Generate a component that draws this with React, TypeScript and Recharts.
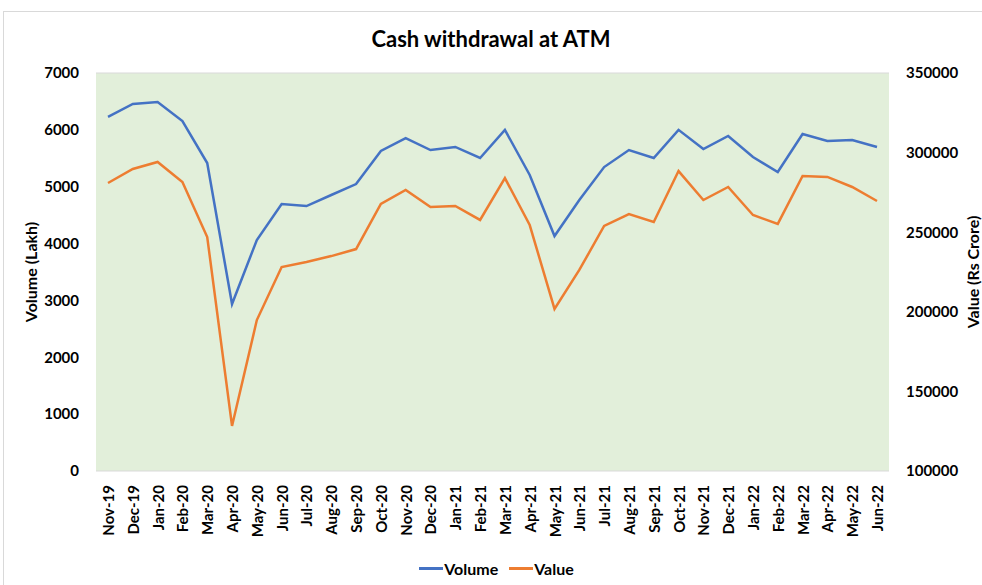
import React from "react";
import {
  LineChart, Line, XAxis, YAxis, CartesianGrid, Legend,
} from "recharts";

const months = [
  "Nov-19", "Dec-19", "Jan-20", "Feb-20", "Mar-20", "Apr-20", "May-20", "Jun-20",
  "Jul-20", "Aug-20", "Sep-20", "Oct-20", "Nov-20", "Dec-20", "Jan-21", "Feb-21",
  "Mar-21", "Apr-21", "May-21", "Jun-21", "Jul-21", "Aug-21", "Sep-21", "Oct-21",
  "Nov-21", "Dec-21", "Jan-22", "Feb-22", "Mar-22", "Apr-22", "May-22", "Jun-22",
];

// Volume (Lakh)
const volume = [
  6230, 6455, 6490, 6155, 5417, 2937, 4063, 4696,
  4660, 4854, 5047, 5628, 5856, 5645, 5700, 5505,
  6000, 5206, 4133, 4766, 5346, 5645, 5505, 6000,
  5663, 5893, 5522, 5258, 5927, 5804, 5821, 5698,
];

// Value (Rs Crore)
const value = [
  280900, 289700, 294100, 281500, 247000, 128300, 194800, 228100,
  231300, 235000, 239400, 267700, 276500, 265800, 266500, 257700,
  284000, 254500, 201800, 226300, 253900, 261400, 256400, 288400,
  270200, 278400, 260800, 255200, 285300, 284700, 278400, 269600,
];

const leftTicks = [0, 1000, 2000, 3000, 4000, 5000, 6000, 7000];
const rightTicks = [100000, 150000, 200000, 250000, 300000, 350000];

const data = months.map((m, i) => ({ month: m, volume: volume[i], value: value[i] }));

const FONT = "Lato, 'Open Sans', sans-serif";
const tickStyle = { fill: "#000", fontSize: 15, fontWeight: 700, fontFamily: FONT };
const titleStyle = { textAnchor: "middle" as const, fill: "#000", fontSize: 16, fontWeight: 700, fontFamily: FONT };

function MonthTick({ x, y, payload }: { x?: number; y?: number; payload?: { value: string } }) {
  return (
    <g transform={`translate(${x},${(y ?? 0) + 6})`}>
      <text
        transform="rotate(-90)"
        textAnchor="end"
        dominantBaseline="central"
        fill="#000"
        fontSize={15}
        fontWeight={700}
        fontFamily={FONT}
      >
        {payload?.value}
      </text>
    </g>
  );
}

function LegendContent() {
  const items = [
    { name: "Volume", color: "#4472c4" },
    { name: "Value", color: "#ed7d31" },
  ];
  return (
    <div style={{ display: "flex", justifyContent: "center", gap: 11, fontFamily: FONT, fontSize: 16, fontWeight: 700, paddingTop: 4 }}>
      {items.map((it) => (
        <div key={it.name} style={{ display: "flex", alignItems: "center" }}>
          <span style={{ display: "inline-block", width: 24, height: 2.5, background: it.color, marginRight: 1 }} />
          <span>{it.name}</span>
        </div>
      ))}
    </div>
  );
}

export default function App() {
  return (
    <div style={{ position: "absolute", left: 0, top: 0, width: 982, height: 585, background: "#fff", overflow: "hidden" }}>
      <div style={{ position: "absolute", left: 3, top: 11, width: 1000, height: 600, border: "1px solid #d9d9d9" }} />
      <div style={{ position: "absolute", left: 0, top: 25, width: 982, textAlign: "center", fontFamily: FONT, fontSize: 22, fontWeight: 700 }}>
        Cash withdrawal at ATM
      </div>
      <div style={{ position: "absolute", left: 0, top: 0 }}>
        <LineChart width={982} height={585} data={data} margin={{ top: 73, right: 13, bottom: 5, left: 24 }}>
          <CartesianGrid vertical={false} stroke="#d9d9d9" fill="#e2efda" />
          <XAxis
            dataKey="month"
            axisLine={false}
            tickLine={false}
            interval={0}
            height={84}
            padding={{ left: 12, right: 12 }}
            tick={<MonthTick />}
          />
          <YAxis
            yAxisId="left"
            domain={[0, 7000]}
            ticks={leftTicks}
            axisLine={false}
            tickLine={false}
            tickMargin={11}
            width={72}
            tick={tickStyle}
            label={{ value: "Volume (Lakh)", angle: -90, position: "insideLeft", offset: 7, style: titleStyle }}
          />
          <YAxis
            yAxisId="right"
            orientation="right"
            domain={[100000, 350000]}
            ticks={rightTicks}
            axisLine={false}
            tickLine={false}
            tickMargin={11}
            width={80}
            tick={tickStyle}
            label={{ value: "Value (Rs Crore)", angle: -90, position: "insideRight", offset: -4, style: titleStyle }}
          />
          <Legend verticalAlign="bottom" height={25} content={<LegendContent />} />
          <Line yAxisId="left" type="linear" dataKey="volume" name="Volume" stroke="#4472c4" strokeWidth={2.5} dot={false} isAnimationActive={false} />
          <Line yAxisId="right" type="linear" dataKey="value" name="Value" stroke="#ed7d31" strokeWidth={2.5} dot={false} isAnimationActive={false} />
        </LineChart>
      </div>
    </div>
  );
}
